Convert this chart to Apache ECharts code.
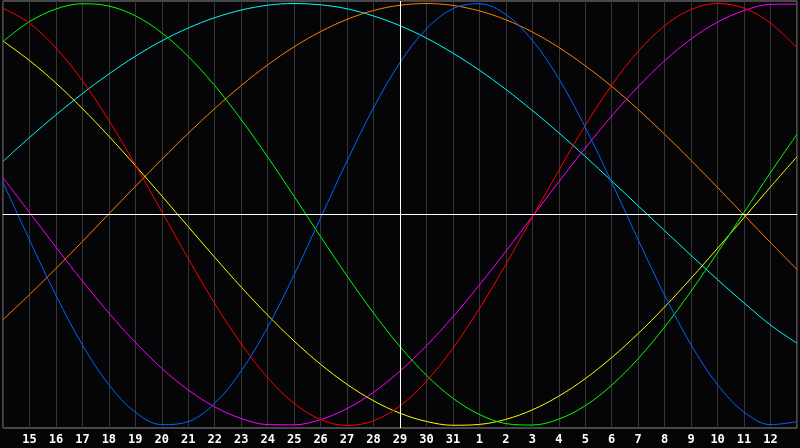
<!DOCTYPE html>
<html>
<head>
<meta charset="utf-8">
<script src="https://cdn.jsdelivr.net/npm/echarts@6/dist/echarts.min.js"></script>
<style>
html,body{margin:0;padding:0;background:#050507;}
#c{width:800px;height:448px;}
</style>
</head>
<body>
<div id="c"></div>
<script>
const days = ['14','15','16','17','18','19','20','21','22','23','24','25','26','27','28','29','30','31','1','2','3','4','5','6','7','8','9','10','11','12','13'];
const todayLabel = '29';

const physical = [0.152,-0.120,-0.383,-0.618,-0.807,-0.937,-0.996,-0.982,-0.895,-0.742,-0.534,-0.286,-0.016,0.254,0.506,0.720,0.880,0.976,0.999,0.948,0.826,0.644,0.413,0.152,-0.120,-0.383,-0.618,-0.807,-0.937,-0.996,-0.982];
const emotional = [0.978,0.907,0.790,0.634,0.446,0.236,0.013,-0.209,-0.422,-0.613,-0.773,-0.895,-0.972,-1.000,-0.978,-0.907,-0.790,-0.634,-0.446,-0.236,-0.013,0.209,0.422,0.613,0.773,0.895,0.972,1.000,0.978,0.907,0.790];
const intellectual = [0.820,0.914,0.974,0.999,0.988,0.942,0.861,0.749,0.611,0.450,0.273,0.086,-0.105,-0.291,-0.467,-0.626,-0.762,-0.871,-0.948,-0.991,-0.998,-0.970,-0.906,-0.809,-0.683,-0.533,-0.363,-0.180,0.010,0.199,0.380];
const intuitive = [0.174,0.010,-0.155,-0.315,-0.467,-0.606,-0.729,-0.832,-0.912,-0.967,-0.996,-0.997,-0.972,-0.920,-0.843,-0.742,-0.622,-0.485,-0.334,-0.174,-0.010,0.155,0.315,0.467,0.606,0.729,0.832,0.912,0.967,0.996,0.997];
const aesthetic = [0.822,0.730,0.623,0.502,0.371,0.232,0.088,-0.058,-0.203,-0.344,-0.477,-0.600,-0.710,-0.805,-0.883,-0.942,-0.981,-0.999,-0.995,-0.971,-0.926,-0.861,-0.778,-0.678,-0.564,-0.438,-0.302,-0.160,-0.015,0.131,0.274];
const awareness = [-0.498,-0.380,-0.256,-0.128,0.003,0.133,0.261,0.385,0.502,0.611,0.709,0.795,0.867,0.925,0.967,0.992,1.000,0.991,0.965,0.923,0.865,0.792,0.705,0.607,0.498,0.380,0.256,0.128,-0.003,-0.133,-0.261];
const spiritual = [0.252,0.365,0.472,0.573,0.666,0.750,0.823,0.884,0.933,0.969,0.992,1.000,0.994,0.975,0.941,0.895,0.836,0.765,0.684,0.593,0.493,0.387,0.275,0.159,0.041,-0.077,-0.194,-0.309,-0.419,-0.524,-0.610];

const seriesDefs = [
  {name:'Spiritual', data:spiritual, color:'#00ffff'},
  {name:'Awareness', data:awareness, color:'#ff8000'},
  {name:'Aesthetic', data:aesthetic, color:'#ffff00'},
  {name:'Intuitive', data:intuitive, color:'#ff00ff'},
  {name:'Intellectual', data:intellectual, color:'#00ff00'},
  {name:'Emotional', data:emotional, color:'#ff0000'},
  {name:'Physical', data:physical, color:'#0066ff'}
];

const chart = echarts.init(document.getElementById('c'), null, {renderer:'canvas'});
const series = seriesDefs.map((s) => ({
  name: s.name,
  type: 'line',
  data: s.data,
  smooth: 0.35,
  showSymbol: false,
  symbol: 'none',
  silent: true,
  lineStyle: {color: s.color, width: 1},
  z: 3
}));
series.push({
  type: 'line',
  data: [],
  silent: true,
  markLine: {
    silent: true,
    symbol: ['none','none'],
    label: {show:false},
    lineStyle: {color:'#ffffff', width:1, type:'solid'},
    data: [{xAxis: todayLabel}, {yAxis: 0}]
  },
  z: 4
});

chart.setOption({
  backgroundColor: '#050507',
  animation: false,
  grid: {left: 1, right: 0, top: 1, bottom: 20, show: true, borderColor: '#8a8a8a', borderWidth: 1, backgroundColor: 'transparent'},
  xAxis: {
    type: 'category',
    data: days,
    boundaryGap: false,
    axisLine: {show: true, lineStyle: {color: '#8a8a8a', width: 1}},
    axisTick: {show: false},
    splitLine: {show: true, interval: 0, lineStyle: {color: '#353535', width: 1}},
    axisLabel: {
      interval: 0,
      color: '#ffffff',
      fontFamily: 'DejaVu Sans Mono',
      fontWeight: 'bold',
      fontSize: 12,
      margin: 6,
      showMinLabel: false,
      showMaxLabel: false,
      formatter: (v, i) => (i === 0 || i === days.length - 1) ? '' : v
    }
  },
  yAxis: {
    type: 'value',
    min: -1.012,
    max: 1.012,
    axisLine: {show: false},
    axisTick: {show: false},
    axisLabel: {show: false},
    splitLine: {show: false}
  },
  series: series
});
</script>
</body>
</html>
